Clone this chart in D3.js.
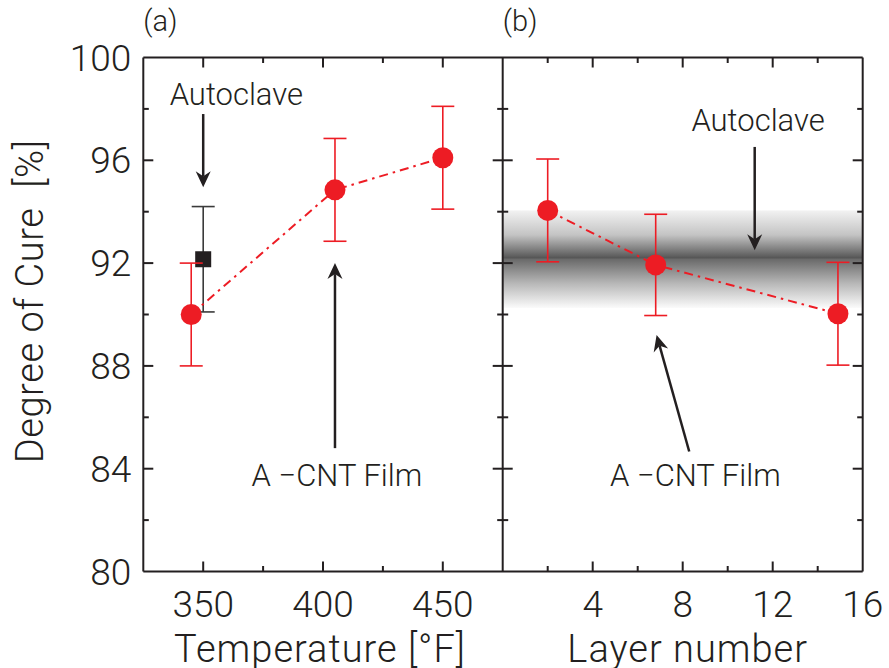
<!DOCTYPE html>
<html>
<head>
<meta charset="utf-8">
<script src="https://cdn.jsdelivr.net/npm/d3@7"></script>
<style>
  body { margin: 0; background: #fff; }
  svg text { font-family: Roboto, "Open Sans", "DejaVu Sans", sans-serif; font-weight: 300; fill: #231f20; }
</style>
</head>
<body>
<svg width="889" height="668"></svg>
<script>
// panel (a): degree of cure vs. cure temperature
const tempValues = [345, 405, 450];
const tempCure = [90.0, 94.85, 96.1];
const tempErr = [2.0, 2.0, 2.0];
// autoclave reference point in panel (a)
const autoclaveTemp = [350];
const autoclaveCure = [92.15];
const autoclaveErr = [2.05];

// panel (b): degree of cure vs. layer number
const layerValues = [2, 6.8, 14.9];
const layerCure = [94.05, 91.93, 90.03];
const layerErr = [2.0, 1.97, 2.0];
// autoclave band in panel (b)
const bandCenter = 92;
const bandRange = [90.25, 94.05];

// tick labels
const yTicks = [80, 84, 88, 92, 96, 100];
const yMinor = [82, 86, 90, 94, 98];
const tempTicks = [350, 400, 450];
const tempMinor = [375, 425];
const layerTicks = [4, 8, 12, 16];
const layerMinor = [2, 6, 10, 14];

// annotations (data units)
const arrowsA = [{x1: 350, y1: 97.8, x2: 350, y2: 94.95}, {x1: 405, y1: 84.8, x2: 405, y2: 92.0}];
const arrowsB = [{x1: 11.2, y1: 96.52, x2: 11.2, y2: 92.5}, {x1: 8.29, y1: 84.67, x2: 6.84, y2: 89.2}];
const labelsA = [{x: 336, y: 98.14, text: "Autoclave"}, {x: 370.2, y: 83.32, text: "A \u2212CNT Film"}];
const labelsB = [{x: 11.35, y: 97.14, text: "Autoclave", anchor: "middle"}, {x: 4.77, y: 83.32, text: "A \u2212CNT Film"}];

const svg = d3.select("svg"),
    plotLeft = 143.3, plotMid = 502.7, plotRight = 862.7,
    plotTop = 57.5, plotBottom = 571.5;

const ink = "#231f20", red = "#ed1c24";

const y = d3.scaleLinear().domain([80, 100]).range([plotBottom, plotTop]);
const xA = d3.scaleLinear().domain([325, 475]).range([plotLeft, plotMid]);
const xB = d3.scaleLinear().domain([0, 16]).range([plotMid, plotRight]);

// gradient for the autoclave band
const defs = svg.append("defs");
const grad = defs.append("linearGradient")
    .attr("id", "band").attr("x1", 0).attr("x2", 0).attr("y1", 0).attr("y2", 1);
grad.append("stop").attr("offset", "0%").attr("stop-color", "#f2f2f2");
grad.append("stop").attr("offset", "25%").attr("stop-color", "#c4c4c4");
grad.append("stop").attr("offset", "47%").attr("stop-color", "#5e5e5e");
grad.append("stop").attr("offset", "48.5%").attr("stop-color", "#555");
grad.append("stop").attr("offset", "50%").attr("stop-color", "#6a6a6a");
grad.append("stop").attr("offset", "75%").attr("stop-color", "#b8b8b8");
grad.append("stop").attr("offset", "100%").attr("stop-color", "#fbfbfb");

svg.append("rect")
    .attr("x", xB(0)).attr("width", xB(16) - xB(0))
    .attr("y", y(bandRange[1])).attr("height", y(bandRange[0]) - y(bandRange[1]))
    .attr("fill", "url(#band)");

// frames
const axisLine = (x1, y1, x2, y2) => svg.append("line")
    .attr("x1", x1).attr("y1", y1).attr("x2", x2).attr("y2", y2)
    .attr("stroke", ink).attr("stroke-width", 2);

axisLine(plotLeft, plotTop, plotRight, plotTop);
axisLine(plotLeft, plotBottom, plotRight, plotBottom);
axisLine(plotLeft, plotTop, plotLeft, plotBottom);
axisLine(plotMid, plotTop, plotMid, plotBottom);
axisLine(plotRight, plotTop, plotRight, plotBottom);

// y ticks
yTicks.concat(yMinor).forEach(v => {
  const len = yTicks.includes(v) ? 10 : 5.5;
  if (v === 80 || v === 100) return;
  axisLine(plotLeft, y(v), plotLeft + len, y(v));
  axisLine(plotMid - len, y(v), plotMid + len, y(v));
  axisLine(plotRight - len, y(v), plotRight, y(v));
});

svg.append("g").selectAll("text")
  .data(yTicks)
  .join("text")
    .attr("x", plotLeft - 12)
    .attr("y", d => y(d) + 13)
    .attr("text-anchor", "end")
    .attr("font-size", 37)
    .text(d => d);

// x ticks
const xTicks = (scale, major, minor) => {
  major.concat(minor).forEach(v => {
    const len = major.includes(v) ? 10 : 5.5;
    if (scale(v) >= plotRight - 0.5) return;
    axisLine(scale(v), plotBottom, scale(v), plotBottom - len);
    axisLine(scale(v), plotTop, scale(v), plotTop + len);
  });
  svg.append("g").selectAll("text")
    .data(major)
    .join("text")
      .attr("x", d => scale(d))
      .attr("y", plotBottom + 45.5)
      .attr("text-anchor", "middle")
      .attr("font-size", 37)
      .text(d => d);
};
xTicks(xA, tempTicks, tempMinor);
xTicks(xB, layerTicks, layerMinor);

// axis titles
svg.append("text")
    .attr("transform", "translate(43," + (y(90) - 13) + ") rotate(-90)")
    .attr("text-anchor", "middle")
    .attr("font-size", 38)
    .attr("letter-spacing", 0.6)
    .text("Degree of Cure\u00a0 [%]");

svg.append("text")
    .attr("x", (plotLeft + plotMid) / 2 - 3)
    .attr("y", 662)
    .attr("text-anchor", "middle")
    .attr("font-size", 38)
    .attr("letter-spacing", 1)
    .text("Temperature [\u00b0F]");

svg.append("text")
    .attr("x", (plotMid + plotRight) / 2 + 5)
    .attr("y", 662)
    .attr("text-anchor", "middle")
    .attr("font-size", 38)
    .attr("letter-spacing", 1)
    .text("Layer number");

svg.append("text").attr("x", plotLeft).attr("y", 31).attr("font-size", 29).text("(a)");
svg.append("text").attr("x", plotMid).attr("y", 31).attr("font-size", 29).text("(b)");

// error bars + markers
const errorBars = (xs, ys, es, scale, color) => {
  const g = svg.append("g").attr("stroke", color).attr("stroke-width", 1.6);
  xs.forEach((xv, i) => {
    const cx = scale(xv);
    g.append("line").attr("x1", cx).attr("x2", cx).attr("y1", y(ys[i] + es[i])).attr("y2", y(ys[i] - es[i]));
    g.append("line").attr("x1", cx - 11.5).attr("x2", cx + 11.5).attr("y1", y(ys[i] + es[i])).attr("y2", y(ys[i] + es[i]));
    g.append("line").attr("x1", cx - 11.5).attr("x2", cx + 11.5).attr("y1", y(ys[i] - es[i])).attr("y2", y(ys[i] - es[i]));
  });
};

// autoclave point (a)
errorBars(autoclaveTemp, autoclaveCure, autoclaveErr, xA, "#3a3a3a");
svg.append("g").selectAll("rect")
  .data(autoclaveTemp)
  .join("rect")
    .attr("x", (d) => xA(d) - 8)
    .attr("y", (d, i) => y(autoclaveCure[i]) - 8)
    .attr("width", 16).attr("height", 16)
    .attr("fill", ink);

const drawSeries = (xs, ys, es, scale) => {
  const pts = xs.map((d, i) => ({x: d, y: ys[i]}));
  svg.append("path")
      .datum(pts)
      .attr("fill", "none")
      .attr("stroke", red)
      .attr("stroke-width", 2)
      .attr("stroke-dasharray", "9,5,2.5,5")
      .attr("d", d3.line().x(d => scale(d.x)).y(d => y(d.y)));
  errorBars(xs, ys, es, scale, red);
  svg.append("g").selectAll("circle")
    .data(pts)
    .join("circle")
      .attr("cx", d => scale(d.x))
      .attr("cy", d => y(d.y))
      .attr("r", 10.5)
      .attr("fill", red);
};
drawSeries(tempValues, tempCure, tempErr, xA);
drawSeries(layerValues, layerCure, layerErr, xB);

// arrows
const arrow = (a, scale) => {
  const x1 = scale(a.x1), y1 = y(a.y1), x2 = scale(a.x2), y2 = y(a.y2);
  const ang = Math.atan2(y2 - y1, x2 - x1);
  const L = 16, W = 7.5, N = 11;
  const ux = Math.cos(ang), uy = Math.sin(ang);
  const px = -uy, py = ux;
  svg.append("line")
      .attr("x1", x1).attr("y1", y1)
      .attr("x2", x2 - ux * N).attr("y2", y2 - uy * N)
      .attr("stroke", ink).attr("stroke-width", 2.5);
  const head = [
    [x2, y2],
    [x2 - ux * L + px * W, y2 - uy * L + py * W],
    [x2 - ux * N, y2 - uy * N],
    [x2 - ux * L - px * W, y2 - uy * L - py * W]
  ];
  svg.append("path")
      .attr("d", "M" + head.map(p => p.join(",")).join("L") + "Z")
      .attr("fill", ink);
};
arrowsA.forEach(a => arrow(a, xA));
arrowsB.forEach(a => arrow(a, xB));

// annotation text
const labels = (list, scale) => {
  svg.append("g").selectAll("text")
    .data(list)
    .join("text")
      .attr("x", d => scale(d.x))
      .attr("y", d => y(d.y))
      .attr("text-anchor", d => d.anchor || "start")
      .attr("font-size", 31)
      .text(d => d.text);
};
labels(labelsA, xA);
labels(labelsB, xB);
</script>
</body>
</html>
